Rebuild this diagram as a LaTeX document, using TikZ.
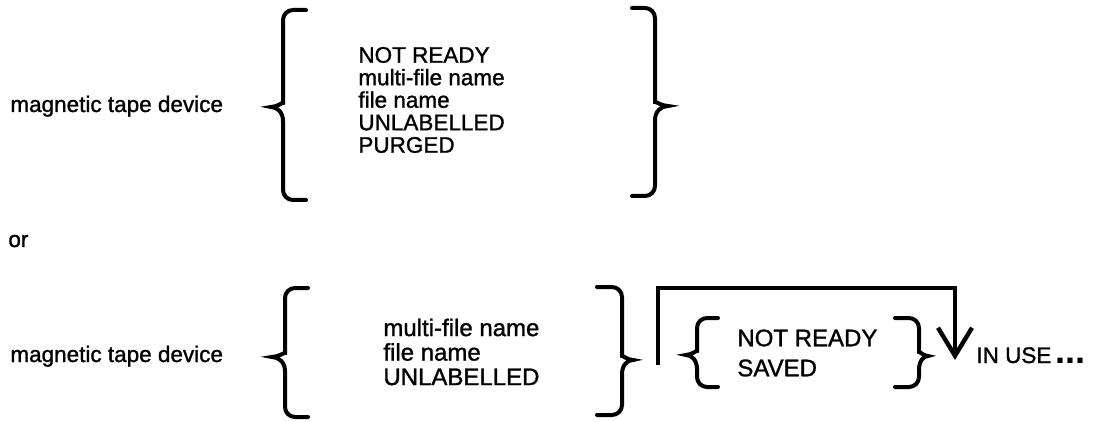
\documentclass[tikz,border=0pt]{standalone}
\usepackage{fontspec}
\setmainfont{Liberation Sans}[UprightFeatures={FakeBold=1.2}]
\usetikzlibrary{arrows.meta}
\tikzset{
  curl/.style={line width=2pt, rounded corners=5pt, line cap=round},
  txt/.style={inner sep=0pt, align=left, font=\fontsize{11.25}{11.25}\selectfont},
  loopline/.style={line width=1.6pt, -{Straight Barb[length=14pt,width=17pt,line width=2.2pt]}}
}
% curly bracket: arm x, spine x, tip x, top y, tip y, bottom y
\newcommand\curlbr[6]{%
  \draw[curl] (#1,#4) -- (#2,#4) -- (#2,#5-14) [sharp corners]
    .. controls (#2,#5-5) and ({(#2+#3)/2},#5) .. (#3,#5)
    .. controls ({(#2+#3)/2},#5) and (#2,#5+5) .. (#2,#5+14)
    [rounded corners=5pt] -- (#2,#6) -- (#1,#6);}

\begin{document}
\begin{tikzpicture}[x=0.5pt,y=-0.5pt]
  \useasboundingbox (0,0) rectangle (1097,422);
  % first form
  \node[txt, anchor=base west] (dev1) at (10,112) {magnetic tape device};
  \node[txt, anchor=west] (list1) at (358,100)
    {NOT READY\\multi-file name\\file name\\UNLABELLED\\PURGED};
  \curlbr{306}{283}{271}{10}{107}{200}
  \curlbr{632}{655}{668}{8}{106}{196}
  % or
  \node[txt, anchor=base west] (or) at (8,247) {or};
  % second form
  \node[txt, anchor=base west] (dev2) at (10,362) {magnetic tape device};
  \node[txt, anchor=west, font=\fontsize{12}{12.25}\selectfont] (list2) at (383,352)
    {multi-file name\\file name\\UNLABELLED};
  \curlbr{308}{285}{272}{288}{357}{417}
  \curlbr{597}{622}{633}{287}{360}{415}
  \node[txt, anchor=west, font=\fontsize{12}{15}\selectfont] (opt) at (737,353)
    {NOT READY\\SAVED};
  \curlbr{718}{697}{686}{318}{355}{387}
  \curlbr{895}{919}{928}{318}{356}{387}
  \node[txt, anchor=base west] (inuse) at (976,363)
    {IN USE\,{\fontsize{18}{18}\selectfont\bfseries...}};
  \coordinate (loopin) at (658,365);
  \coordinate (looptop) at (955,288);
  \coordinate (loopout) at (955,360);
  \draw[loopline] (loopin) |- (looptop) -- (loopout);
\end{tikzpicture}
\end{document}
